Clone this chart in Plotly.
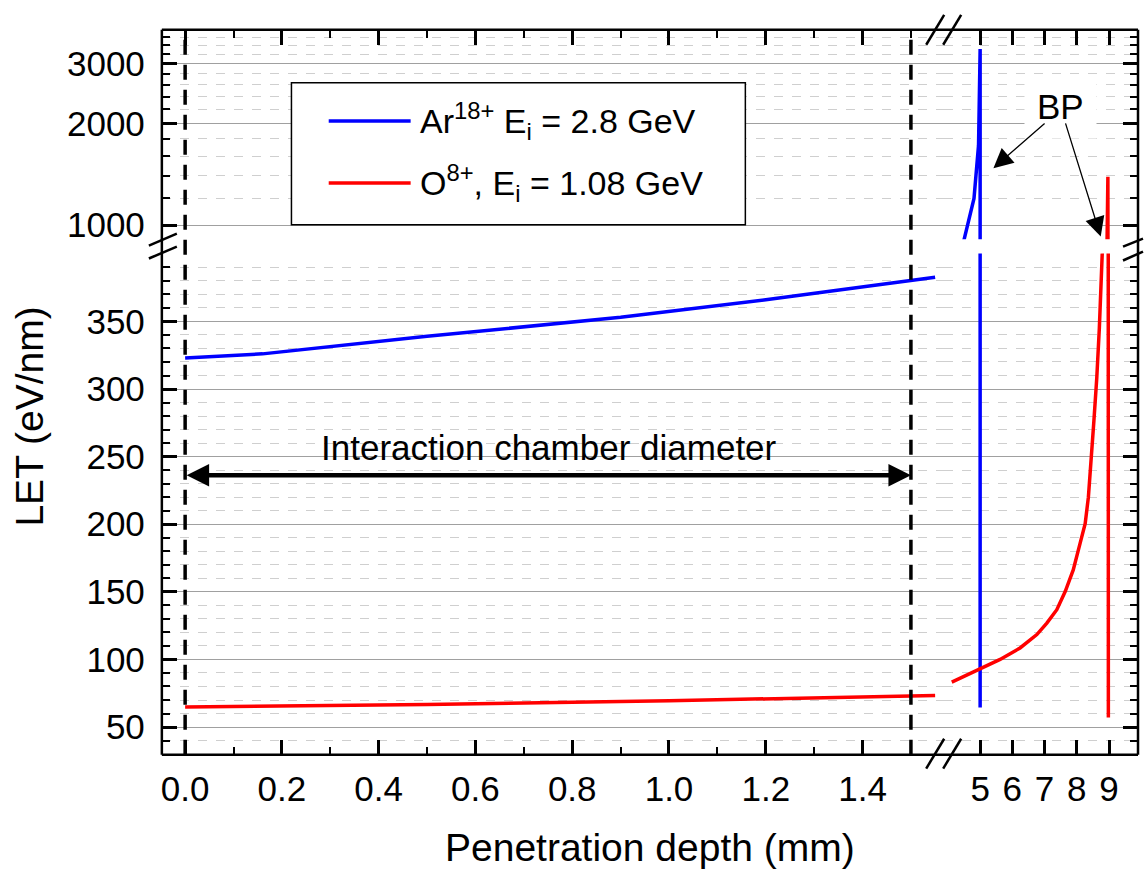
import plotly.graph_objects as go

# ---------------- data ----------------
ar_depth_inlet = [0.0, 0.16, 0.5, 0.9, 1.2, 1.55]
ar_let_inlet = [323, 326, 339, 353, 366, 382.6]
ar_depth_target = [4.47, 4.5, 4.81, 4.95, 5.0, 5.0]
ar_let_target = [880, 905, 1200, 1720, 3320, 64.4]

o_depth_inlet = [0.0, 0.5, 1.0, 1.55]
o_let_inlet = [64.9, 66.6, 69.5, 73.3]
o_depth_target = [4.12, 5.0, 5.62, 6.24, 6.76, 7.07, 7.38, 7.64, 7.89, 8.10, 8.26,
                  8.36, 8.46, 8.53, 8.62, 8.70, 8.79, 8.88, 8.94, 8.965, 8.98]
o_let_target = [83.3, 93.1, 100, 108.5, 118.4, 126.9, 136.8, 150.2, 166.2, 185.7, 200.4,
                220, 249.5, 276, 308, 345, 400.5, 600, 900, 1390, 57.1]

series_names = ["Ar<sup>18+</sup> E<sub>i</sub> = 2.8 GeV", "O<sup>8+</sup>, E<sub>i</sub> = 1.08 GeV"]
series_colors = ["#0000FF", "#FF0000"]

low_ticks = [50, 100, 150, 200, 250, 300, 350]
low_minor = [v for v in range(40, 400, 10) if v % 50 != 0]
up_ticks = [1000, 2000, 3000]
up_minor = [1200, 1400, 1600, 1800, 2200, 2400, 2600, 2800, 3200, 3400, 3600]
right_ticks = [5, 6, 7, 8, 9]

# ---------------- geometry ----------------
W, H = 1144, 873
def px(x):
    return x / W
def py(y):
    return 1 - y / H

xL = [px(161), px(944)]
xR = [px(944), px(1138)]
yLow = [py(759), py(255)]
yUp = [py(240.7), py(30)]
rangeL = [-0.0481, 1.5687]
rangeR = [3.884, 9.90]
rangeLow = [29.6, 400.2]
rangeUp = [2.958, 3.5778]

FONT = "Liberation Sans, Arial, sans-serif"
FS = 35
FT = 39

fig = go.Figure()

pairs = [("x", "y"), ("x2", "y3"), ("x3", "y2"), ("x4", "y4")]
ar_sets = [(ar_depth_inlet, ar_let_inlet), (ar_depth_target, ar_let_target)]
o_sets = [(o_depth_inlet, o_let_inlet), (o_depth_target, o_let_target)]
for xa, ya in pairs:
    idx = 0 if xa in ("x", "x3") else 1
    for (d, l), name, col in [(ar_sets[idx], series_names[0], series_colors[0]),
                              (o_sets[idx], series_names[1], series_colors[1])]:
        fig.add_trace(go.Scatter(x=d, y=l, mode="lines", name=name,
                                 line=dict(color=col, width=3.5),
                                 xaxis=xa, yaxis=ya, showlegend=False,
                                 hoverinfo="skip"))

tick_common = dict(ticks="inside", ticklen=15, tickwidth=2.5, tickcolor="black",
                   showline=False, zeroline=False,
                   tickfont=dict(family=FONT, size=FS, color="black"))
minor_x = dict(ticks="inside", ticklen=8, tickwidth=2, tickcolor="black",
               tick0=0, dtick=0.1, showgrid=False)
grid_low = dict(showgrid=True, gridcolor="#a0a0a0", gridwidth=1)
minor_low = dict(tickmode="array", tickvals=low_minor, ticks="inside", ticklen=8,
                 tickwidth=2, tickcolor="black", showgrid=True,
                 gridcolor="#cfcfcf", griddash="dash", gridwidth=1)
minor_up = dict(tickmode="array", tickvals=up_minor, ticks="inside", ticklen=8,
                tickwidth=2, tickcolor="black", showgrid=True,
                gridcolor="#cfcfcf", griddash="dash", gridwidth=1)

fig.update_layout(
    width=W, height=H, margin=dict(l=0, r=0, t=0, b=0),
    plot_bgcolor="white", paper_bgcolor="white", showlegend=False,
    font=dict(family=FONT, size=FS, color="black"),
    xaxis=dict(domain=xL, range=rangeL, anchor="y", side="bottom",
               tick0=0, dtick=0.2, tickformat=".1f", showgrid=False,
               minor=minor_x, ticklabelstandoff=10, **tick_common),
    xaxis2=dict(domain=xR, range=rangeR, anchor="y3", side="bottom",
                tickmode="array", tickvals=right_ticks, showgrid=False,
                ticklabelstandoff=10, **tick_common),
    xaxis3=dict(domain=xL, range=rangeL, anchor="y2", side="top",
                tick0=0, dtick=0.2, showgrid=False, showticklabels=False,
                minor=minor_x, **tick_common),
    xaxis4=dict(domain=xR, range=rangeR, anchor="y4", side="top",
                tickmode="array", tickvals=right_ticks, showgrid=False,
                showticklabels=False, **tick_common),
    yaxis=dict(domain=yLow, range=rangeLow, anchor="x", side="left",
               tickmode="array", tickvals=low_ticks, minor=minor_low,
               ticklabelstandoff=16, **grid_low, **tick_common),
    yaxis3=dict(domain=yLow, range=rangeLow, anchor="x2", side="right",
                tickmode="array", tickvals=low_ticks, minor=minor_low,
                showticklabels=False, **grid_low, **tick_common),
    yaxis2=dict(domain=yUp, type="log", range=rangeUp, anchor="x3", side="left",
                tickmode="array", tickvals=up_ticks, ticktext=[str(v) for v in up_ticks],
                minor=minor_up, ticklabelstandoff=16, **grid_low, **tick_common),
    yaxis4=dict(domain=yUp, type="log", range=rangeUp, anchor="x4", side="right",
                tickmode="array", tickvals=up_ticks, minor=minor_up,
                showticklabels=False, **grid_low, **tick_common),
)

shapes = []
# frame
for x0, y0, x1, y1 in [(161, 30, 161, 759), (1138, 30, 1138, 759),
                       (161, 30, 1138, 30), (161, 759, 1138, 759)]:
    shapes.append(dict(type="line", xref="paper", yref="paper", x0=px(x0), y0=py(y0),
                       x1=px(x1), y1=py(y1), line=dict(color="black", width=2.5),
                       layer="above"))
# axis break marks
for x0, y0, x1, y1 in [(926, 773, 944, 743), (943, 773, 961, 743),
                       (926, 45, 944, 15), (943, 45, 961, 15),
                       (148, 247, 176, 235), (148, 260, 176, 248),
                       (1123, 248, 1143, 240), (1123, 262, 1143, 253)]:
    shapes.append(dict(type="line", xref="paper", yref="paper", x0=px(x0), y0=py(y0),
                       x1=px(x1), y1=py(y1), line=dict(color="black", width=2.5),
                       layer="above"))
# interaction chamber boundaries
for xv in [0.0, 1.5]:
    shapes.append(dict(type="line", xref="x", yref="paper", x0=xv, x1=xv,
                       y0=py(759), y1=py(30),
                       line=dict(color="black", width=3.5, dash="15px,10px"),
                       layer="above"))
# legend box and samples
shapes.append(dict(type="rect", xref="paper", yref="paper", x0=px(290.7), x1=px(745),
                   y0=py(226), y1=py(83.3), line=dict(color="black", width=1.5),
                   fillcolor="white", layer="above"))
for yy, col in [(121.7, series_colors[0]), (184, series_colors[1])]:
    shapes.append(dict(type="line", xref="paper", yref="paper", x0=px(328), x1=px(410),
                       y0=py(yy), y1=py(yy), line=dict(color=col, width=3.5),
                       layer="above"))
fig.update_layout(shapes=shapes)

ann = []
for yy, name in [(121.7, series_names[0]), (184, series_names[1])]:
    ann.append(dict(xref="paper", yref="paper", x=px(417), y=py(yy), text=name,
                    showarrow=False, xanchor="left", yanchor="middle",
                    font=dict(family=FONT, size=FS - 1, color="black")))
# axis titles
ann.append(dict(xref="paper", yref="paper", x=px(29), y=py(419), text="LET (eV/nm)",
                textangle=-90, showarrow=False, xanchor="center", yanchor="middle",
                font=dict(family=FONT, size=FT, color="black")))
ann.append(dict(xref="paper", yref="paper", x=px(650), y=py(852),
                text="Penetration depth (mm)", showarrow=False,
                xanchor="center", yanchor="middle",
                font=dict(family=FONT, size=FT, color="black")))
# chamber diameter arrow + label
ann.append(dict(xref="x", yref="y", x=1.5, y=236.3, axref="x", ayref="y", ax=0.0, ay=236.3,
                text="", showarrow=True, arrowhead=2, arrowside="end+start",
                arrowwidth=4.5, arrowsize=1, arrowcolor="black", standoff=0, startstandoff=0))
ann.append(dict(xref="x", yref="y", x=0.753, y=257.0, text="Interaction chamber diameter",
                showarrow=False, xanchor="center", yanchor="middle",
                font=dict(family=FONT, size=FS, color="black")))
# Bragg peak label and arrows
ann.append(dict(xref="x4", yref="y4", x=7.48, y=3.350, text="BP", showarrow=False,
                xanchor="center", yanchor="middle", bgcolor="white", borderpad=12,
                font=dict(family=FONT, size=FS, color="black")))
for hx, hy, tx, ty in [(5.412, 3.1686, 7.047, 3.3046), (8.743, 2.966, 7.636, 3.3055)]:
    ann.append(dict(xref="x4", yref="y4", x=hx, y=hy, axref="x4", ayref="y4", ax=tx, ay=ty,
                    text="", showarrow=True, arrowhead=2, arrowwidth=1.3, arrowsize=3,
                    arrowcolor="black", standoff=0, startstandoff=0))
fig.update_layout(annotations=ann)

fig.write_html("out.html")
